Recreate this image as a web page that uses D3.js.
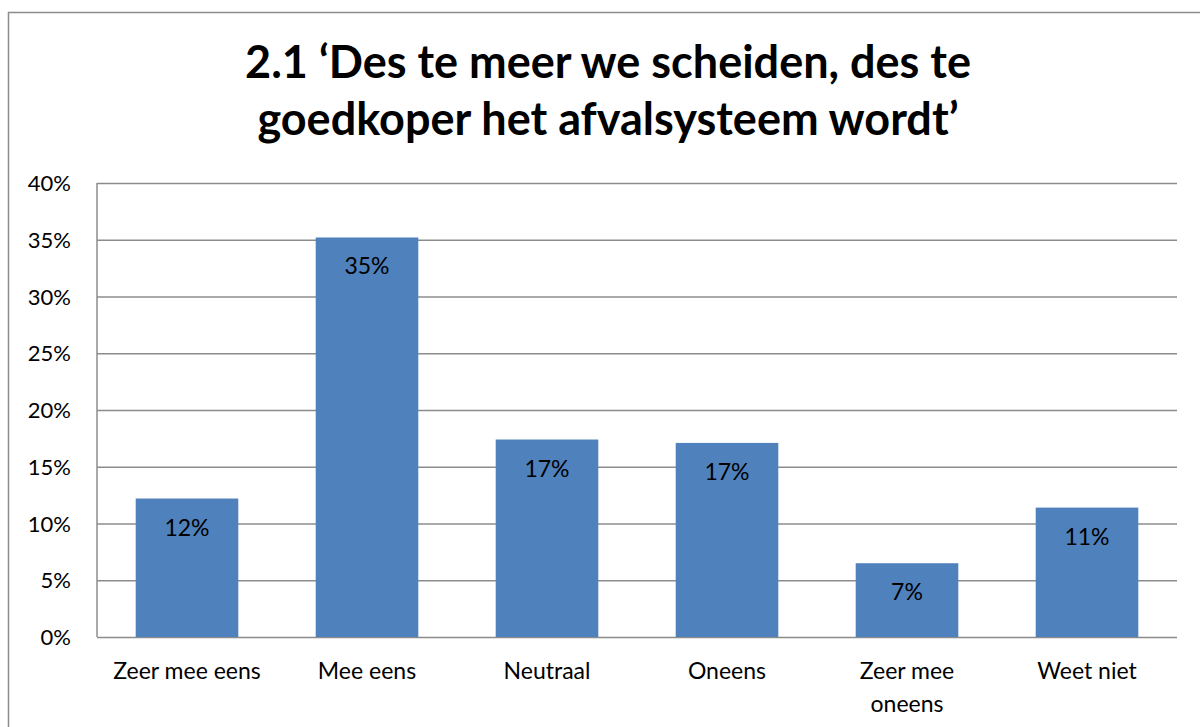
<!DOCTYPE html>
<html lang="nl">
<head>
    <meta charset="UTF-8">
    <title>2.1</title>
    <script src="https://cdn.jsdelivr.net/npm/d3@7"></script>
    <style>
        body { margin: 0; background: #fff; }
        svg text { font-family: Lato, "Open Sans", sans-serif; fill: #000; }
        .grid line { stroke: #8c8c8c; stroke-width: 1.5; }
        .grid path { display: none; }
    </style>
</head>
<body>
<svg id="chart" width="1200" height="727"></svg>
<script>
    var categories = ["Zeer mee eens", "Mee eens", "Neutraal", "Oneens", "Zeer mee oneens", "Weet niet"];
    var values = [12.2, 35.2, 17.4, 17.1, 6.5, 11.4];
    var valueLabels = ["12%", "35%", "17%", "17%", "7%", "11%"];
    var yTicks = [0, 5, 10, 15, 20, 25, 30, 35, 40];
    var titleLines = ["2.1 \u2018Des te meer we scheiden, des te", "goedkoper het afvalsysteem wordt\u2019"];

    var svg = d3.select("#chart");
    var margin = {left: 97, right: 23, top: 183, bottom: 90};
    var width = 1200, height = 727;

    // chart border
    svg.append("rect")
        .attr("x", 8.5).attr("y", 12.5)
        .attr("width", 1200).attr("height", 800)
        .attr("fill", "none")
        .attr("stroke", "#8c8c8c")
        .attr("stroke-width", 1.5);

    svg.selectAll("text.title")
        .data(titleLines)
        .enter()
        .append("text")
        .attr("class", "title")
        .attr("x", 608)
        .attr("y", function (d, i) { return 78 + i * 57; })
        .attr("text-anchor", "middle")
        .style("font-size", "45px")
        .style("font-weight", "bold")
        .text(function (d) { return d; });

    var x = d3.scaleBand()
        .domain(categories)
        .range([margin.left, width - margin.right])
        .paddingInner(0.43)
        .paddingOuter(0.215);

    var y = d3.scaleLinear()
        .domain([0, 40])
        .range([637, 183]);

    // gridlines
    svg.append("g")
        .attr("class", "grid")
        .attr("transform", "translate(" + margin.left + ",0)")
        .call(d3.axisRight(y).tickValues(yTicks).tickSize(width - margin.right - margin.left).tickFormat(""));

    // y axis line
    svg.append("line")
        .attr("x1", margin.left).attr("x2", margin.left)
        .attr("y1", y(40)).attr("y2", y(0))
        .attr("stroke", "#8c8c8c").attr("stroke-width", 1.5);

    svg.selectAll("text.ytick")
        .data(yTicks)
        .enter()
        .append("text")
        .attr("class", "ytick")
        .attr("x", 71)
        .attr("y", function (d) { return y(d) + 8; })
        .attr("text-anchor", "end")
        .style("font-size", "22px")
        .text(function (d) { return d + "%"; });

    svg.selectAll("rect.bar")
        .data(values)
        .enter()
        .append("rect")
        .attr("class", "bar")
        .attr("x", function (d, i) { return x(categories[i]); })
        .attr("y", function (d) { return y(d); })
        .attr("width", x.bandwidth())
        .attr("height", function (d) { return y(0) - y(d); })
        .attr("fill", "#4f81bd");

    svg.selectAll("text.vlabel")
        .data(values)
        .enter()
        .append("text")
        .attr("class", "vlabel")
        .attr("x", function (d, i) { return x(categories[i]) + x.bandwidth() / 2; })
        .attr("y", function (d) { return y(d) + 37; })
        .attr("text-anchor", "middle")
        .style("font-size", "23px")
        .text(function (d, i) { return valueLabels[i]; });

    // category labels, wrapped like the original
    var wrapped = {"Zeer mee oneens": ["Zeer mee", "oneens"]};
    categories.forEach(function (c) {
        var lines = wrapped[c] || [c];
        var t = svg.append("text")
            .attr("x", x(c) + x.bandwidth() / 2)
            .attr("y", 679)
            .attr("text-anchor", "middle")
            .style("font-size", "23px");
        lines.forEach(function (l, i) {
            t.append("tspan")
                .attr("x", x(c) + x.bandwidth() / 2)
                .attr("dy", i === 0 ? 0 : 33)
                .text(l);
        });
    });
</script>
</body>
</html>
